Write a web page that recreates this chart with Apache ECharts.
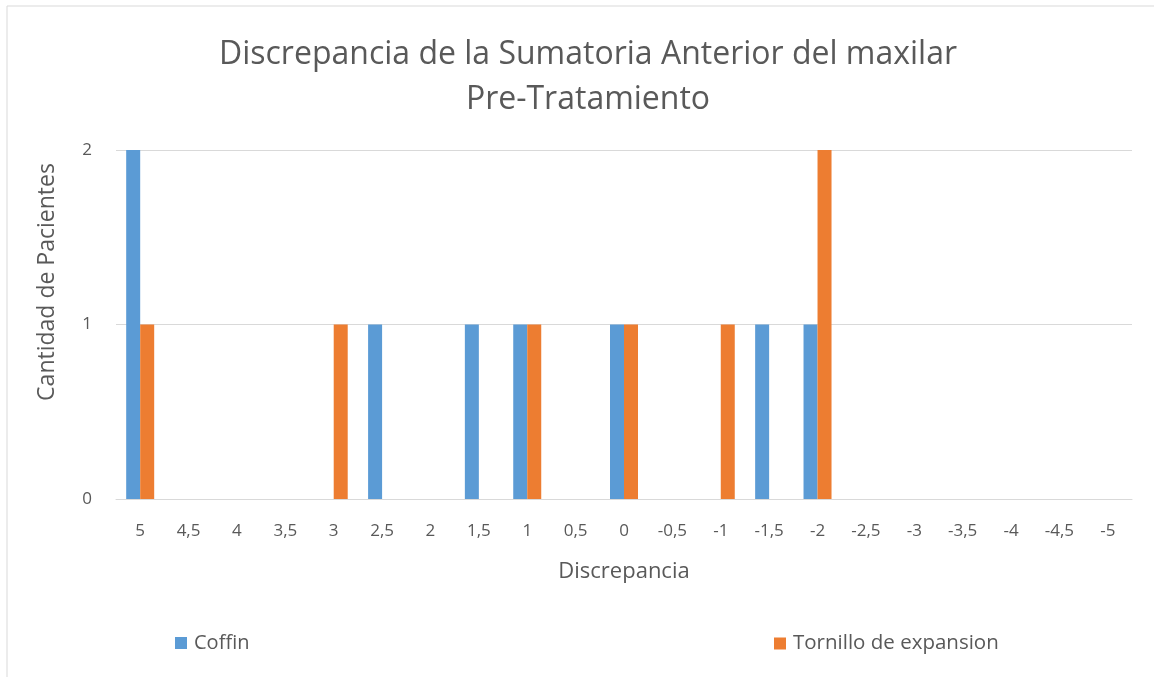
<!DOCTYPE html>
<html><head><meta charset="utf-8">
<script src="https://cdn.jsdelivr.net/npm/echarts@6/dist/echarts.min.js"></script>
<style>html,body{margin:0;padding:0;background:#fff}#c{width:1154px;height:677px}</style>
</head><body><div id="c"></div>
<script>
const categories = ['5','4,5','4','3,5','3','2,5','2','1,5','1','0,5','0','-0,5','-1','-1,5','-2','-2,5','-3','-3,5','-4','-4,5','-5'];
const coffin =    [2,0,0,0,0,1,0,1,1,0,1,0,0,1,1,0,0,0,0,0,0];
const tornillo =  [1,0,0,0,1,0,0,0,1,0,1,0,1,0,2,0,0,0,0,0,0];
const yTicks = [0,1,2];
const font = '"Open Sans", "Noto Sans", sans-serif';
const grey = '#595959';
const chart = echarts.init(document.getElementById('c'));
chart.setOption({
  animation: false,
  backgroundColor: '#fff',
  title: {
    text: 'Discrepancia de la Sumatoria Anterior del maxilar\nPre-Tratamiento',
    left: 583, top: 27, textAlign: 'center',
    textStyle: {fontFamily: font, fontSize: 32, fontWeight: 'normal', color: grey, lineHeight: 45}
  },
  legend: [
    {data: ['Coffin'], left: 170, top: 628, itemWidth: 12, itemHeight: 12, icon: 'rect',
     textStyle: {fontFamily: font, fontSize: 20, color: grey, padding: [0,0,0,2]}},
    {data: ['Tornillo de expansion'], left: 769, top: 628, itemWidth: 12, itemHeight: 12, icon: 'rect',
     textStyle: {fontFamily: font, fontSize: 20.5, color: grey, padding: [0,0,0,2]}}
  ],
  grid: {left: 116, right: 22, top: 150, bottom: 178},
  xAxis: {
    type: 'category', data: categories,
    name: 'Discrepancia', nameLocation: 'middle', nameGap: 62,
    nameTextStyle: {fontFamily: font, fontSize: 22, color: grey},
    axisLine: {lineStyle: {color: '#d9d9d9'}}, axisTick: {show: false},
    axisLabel: {fontFamily: font, fontSize: 17, color: grey, margin: 24, interval: 0}
  },
  yAxis: {
    type: 'value', min: yTicks[0], max: yTicks[yTicks.length-1], interval: 1,
    axisLine: {show: false}, axisTick: {show: false},
    axisLabel: {fontFamily: font, fontSize: 17, color: grey, margin: 24},
    splitLine: {lineStyle: {color: '#d9d9d9'}}
  },
  graphic: [
    {type: 'rect', shape: {x: 7, y: 6, width: 1200, height: 700}, style: {fill: 'none', stroke: '#d9d9d9', lineWidth: 1}, silent: true, z: -1},
    {type: 'text', x: 47, y: 282, rotation: Math.PI/2,
     style: {text: 'Cantidad de Pacientes', fontFamily: font, fontSize: 23, fill: grey, textAlign: 'center', textVerticalAlign: 'middle'}}
  ],
  series: [
    {name: 'Coffin', type: 'bar', data: coffin, barWidth: 14, barGap: '0%',
     itemStyle: {color: '#5b9bd5'}},
    {name: 'Tornillo de expansion', type: 'bar', data: tornillo, barWidth: 14, barGap: '0%',
     itemStyle: {color: '#ed7d31'}}
  ]
});
</script></body></html>
